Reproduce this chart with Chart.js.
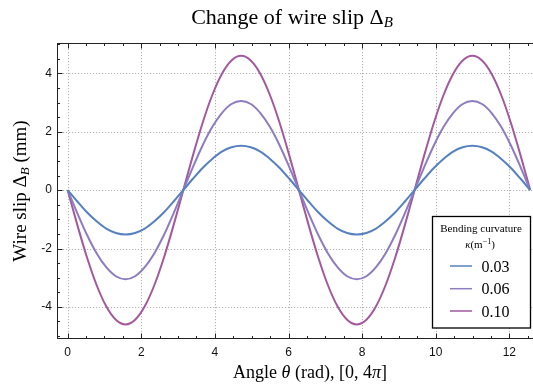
<!DOCTYPE html>
<html><head><meta charset="utf-8">
<script src="https://cdn.jsdelivr.net/npm/chart.js@4.4.0/dist/chart.umd.min.js"></script>
<style>
html,body{margin:0;padding:0;overflow:hidden;background:#fff;width:533px;height:389px}
#wrap{position:relative;width:545px;height:389px}
</style></head><body><div id="wrap"><canvas id="c" width="545" height="389"></canvas></div>
<script>
// ---- data ----
const theta = [0, 0.2618, 0.5236, 0.7854, 1.0472, 1.3090, 1.5708, 1.8326, 2.0944, 2.3562, 2.6180, 2.8798,
  3.1416, 3.4034, 3.6652, 3.9270, 4.1888, 4.4506, 4.7124, 4.9742, 5.2360, 5.4978, 5.7596, 6.0214,
  6.2832, 6.5450, 6.8068, 7.0686, 7.3304, 7.5922, 7.8540, 8.1158, 8.3776, 8.6394, 8.9012, 9.1630,
  9.4248, 9.6866, 9.9484, 10.2102, 10.4720, 10.7338, 10.9956, 11.2574, 11.5192, 11.7810, 12.0428, 12.3046, 12.5664];
const slip003 = [0, -0.39, -0.76, -1.07, -1.32, -1.47, -1.52, -1.47, -1.32, -1.07, -0.76, -0.39,
  0, 0.39, 0.76, 1.07, 1.32, 1.47, 1.52, 1.47, 1.32, 1.07, 0.76, 0.39,
  0, -0.39, -0.76, -1.07, -1.32, -1.47, -1.52, -1.47, -1.32, -1.07, -0.76, -0.39,
  0, 0.39, 0.76, 1.07, 1.32, 1.47, 1.52, 1.47, 1.32, 1.07, 0.76, 0.39, 0];
const slip006 = [0, -0.79, -1.53, -2.16, -2.64, -2.95, -3.05, -2.95, -2.64, -2.16, -1.53, -0.79,
  0, 0.79, 1.53, 2.16, 2.64, 2.95, 3.05, 2.95, 2.64, 2.16, 1.53, 0.79,
  0, -0.79, -1.53, -2.16, -2.64, -2.95, -3.05, -2.95, -2.64, -2.16, -1.53, -0.79,
  0, 0.79, 1.53, 2.16, 2.64, 2.95, 3.05, 2.95, 2.64, 2.16, 1.53, 0.79, 0];
const slip010 = [0, -1.19, -2.30, -3.25, -3.98, -4.44, -4.60, -4.44, -3.98, -3.25, -2.30, -1.19,
  0, 1.19, 2.30, 3.25, 3.98, 4.44, 4.60, 4.44, 3.98, 3.25, 2.30, 1.19,
  0, -1.19, -2.30, -3.25, -3.98, -4.44, -4.60, -4.44, -3.98, -3.25, -2.30, -1.19,
  0, 1.19, 2.30, 3.25, 3.98, 4.44, 4.60, 4.44, 3.98, 3.25, 2.30, 1.19, 0];
const seriesLabels = ['0.03', '0.06', '0.10'];
const xTicks = [0, 2, 4, 6, 8, 10, 12];
const yTicks = [-4, -2, 0, 2, 4];

// ---- styles ----
const seriesColors = ['#5680c0', '#8d7cc0', '#a2599e'];
const SERIF = '"Liberation Serif", "Times New Roman", serif';
const SANS = '"Liberation Sans", Arial, sans-serif';

function drawRich(ctx, segs, x, y, align, rot) {
  ctx.save();
  ctx.translate(x, y);
  if (rot) ctx.rotate(rot);
  ctx.textBaseline = 'alphabetic';
  ctx.textAlign = 'left';
  let w = 0;
  segs.forEach(s => { ctx.font = s.f; s.w = ctx.measureText(s.t).width; w += s.w; });
  let cx = align === 'center' ? -w / 2 : (align === 'right' ? -w : 0);
  segs.forEach(s => { ctx.font = s.f; ctx.fillStyle = '#000'; ctx.fillText(s.t, cx, s.dy || 0); cx += s.w; });
  ctx.restore();
}

const gridPlugin = {
  id: 'gridPlugin',
  beforeDatasetsDraw(chart) {
    const {ctx, chartArea: a, scales: {x, y}} = chart;
    ctx.save();
    ctx.strokeStyle = '#b3b3b3';
    ctx.lineWidth = 1;
    ctx.setLineDash([1.2, 1.8]);
    xTicks.forEach(v => {
      const px = Math.round(x.getPixelForValue(v)) + 0.5;
      ctx.beginPath(); ctx.moveTo(px, a.top); ctx.lineTo(px, a.bottom); ctx.stroke();
    });
    yTicks.forEach(v => {
      const py = Math.round(y.getPixelForValue(v)) + 0.5;
      ctx.beginPath(); ctx.moveTo(a.left, py); ctx.lineTo(a.right, py); ctx.stroke();
    });
    ctx.restore();
  }
};

const framePlugin = {
  id: 'framePlugin',
  afterDatasetsDraw(chart) {
    const {ctx, chartArea: a, scales: {x, y}} = chart;
    ctx.save();
    ctx.strokeStyle = '#222';
    ctx.lineWidth = 1;
    ctx.setLineDash([]);
    const L = Math.round(a.left) + 0.5, R = Math.round(a.right) - 0.5;
    const T = Math.round(a.top) + 0.5, B = Math.round(a.bottom) - 0.5;
    ctx.strokeRect(L, T, R - L, B - T);
    const tick = (x1, y1, x2, y2) => { ctx.beginPath(); ctx.moveTo(x1, y1); ctx.lineTo(x2, y2); ctx.stroke(); };
    for (let v = Math.ceil(x.min * 2) / 2; v <= x.max; v += 0.5) {
      const major = xTicks.includes(v);
      const len = major ? 5 : 2.5;
      const px = Math.round(x.getPixelForValue(v)) + 0.5;
      tick(px, B, px, B - len);
      tick(px, T, px, T + len);
    }
    for (let v = Math.ceil(y.min * 2) / 2; v <= y.max; v += 0.5) {
      const major = yTicks.includes(v);
      const len = major ? 5 : 2.5;
      const py = Math.round(y.getPixelForValue(v)) + 0.5;
      tick(L, py, L + len, py);
      tick(R, py, R - len, py);
    }
    ctx.restore();
  },
  afterDraw(chart) {
    const ctx = chart.ctx;
    // title
    drawRich(ctx, [
      {t: 'Change of wire slip \u0394', f: '22px ' + SERIF},
      {t: 'B', f: 'italic 15px ' + SERIF, dy: 3}
    ], 292, 23.5, 'center');
    // y title
    drawRich(ctx, [
      {t: 'Wire slip \u0394', f: '19px ' + SERIF},
      {t: 'B', f: 'italic 13px ' + SERIF, dy: 3},
      {t: ' (mm)', f: '19px ' + SERIF}
    ], 26, 191, 'center', -Math.PI / 2);
    // x title
    drawRich(ctx, [
      {t: 'Angle ', f: '18px ' + SERIF},
      {t: '\u03B8', f: 'italic 18px ' + SERIF},
      {t: ' (rad), [0, 4', f: '18px ' + SERIF},
      {t: '\u03C0', f: 'italic 18px ' + SERIF},
      {t: ']', f: '18px ' + SERIF}
    ], 310, 378, 'center');
    // legend
    ctx.save();
    ctx.fillStyle = '#fff';
    ctx.strokeStyle = '#000';
    ctx.lineWidth = 1.3;
    ctx.fillRect(432.5, 216.5, 98, 111.5);
    ctx.strokeRect(432.5, 216.5, 98, 111.5);
    ctx.restore();
    drawRich(ctx, [{t: 'Bending curvature', f: '11px ' + SERIF}], 481, 232, 'center');
    drawRich(ctx, [
      {t: '\u03BA', f: 'italic 11px ' + SERIF},
      {t: '(m', f: '11px ' + SERIF},
      {t: '\u22121', f: '8px ' + SERIF, dy: -4},
      {t: ')', f: '11px ' + SERIF}
    ], 480, 248, 'center');
    const rows = [266, 288.7, 311];
    seriesLabels.forEach((lab, i) => {
      ctx.save();
      ctx.strokeStyle = seriesColors[i];
      ctx.lineWidth = 1.5;
      ctx.beginPath(); ctx.moveTo(450, rows[i]); ctx.lineTo(472, rows[i]); ctx.stroke();
      ctx.restore();
      drawRich(ctx, [{t: lab, f: '16px ' + SERIF}], 481.5, rows[i] + 5.5, 'left');
    });
  }
};

const mk = (arr) => theta.map((t, i) => ({x: t, y: arr[i]}));

new Chart(document.getElementById('c'), {
  type: 'line',
  data: {
    datasets: [slip003, slip006, slip010].map((arr, i) => ({
      label: seriesLabels[i],
      data: mk(arr),
      borderColor: seriesColors[i],
      borderWidth: 2,
      pointRadius: 0,
      tension: 0.3,
      fill: false
    }))
  },
  options: {
    responsive: false,
    animation: false,
    devicePixelRatio: 1,
    layout: {padding: {left: 0, right: 4, top: 43, bottom: 0}},
    plugins: {legend: {display: false}, title: {display: false}, tooltip: {enabled: false}},
    scales: {
      x: {
        type: 'linear', min: -0.29, max: 12.86,
        afterBuildTicks: s => { s.ticks = xTicks.map(v => ({value: v})); },
        afterFit: s => { s.height = 50; },
        grid: {display: false, drawTicks: false},
        border: {display: false},
        ticks: {padding: 6, color: '#111', font: {family: SANS, size: 12}, maxRotation: 0, autoSkip: false}
      },
      y: {
        type: 'linear', min: -5.1, max: 5.04,
        afterBuildTicks: s => { s.ticks = yTicks.map(v => ({value: v})); },
        afterFit: s => { s.width = 57; },
        grid: {display: false, drawTicks: false},
        border: {display: false},
        ticks: {padding: 5, color: '#111', font: {family: SANS, size: 12}, autoSkip: false}
      }
    }
  },
  plugins: [gridPlugin, framePlugin]
});
</script></body></html>
